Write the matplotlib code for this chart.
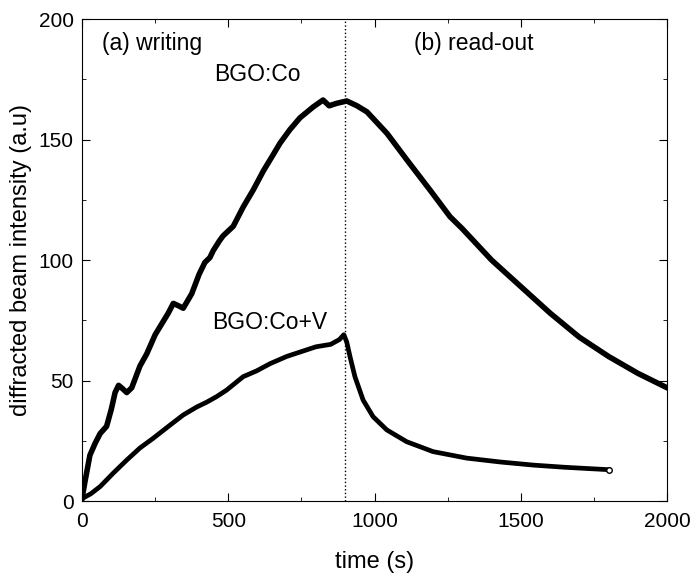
import matplotlib.pyplot as plt
from matplotlib.ticker import MultipleLocator

plt.rcParams['font.family'] = ['Liberation Sans', 'DejaVu Sans']

# BGO:Co  (writing + read-out)
t_co = [0, 10, 27, 45, 62, 84, 100, 113, 125, 135, 153, 170, 198, 221, 250, 275, 295,
        312, 330, 346, 375, 400, 420, 437, 449, 470, 482, 517, 551, 585, 620, 650, 677,
        710, 745, 790, 824, 845, 870, 905, 940, 974, 1043, 1111, 1190, 1258, 1300, 1400,
        1500, 1600, 1700, 1800, 1900, 2000]
y_co = [1, 8, 19, 24, 28, 31, 38, 45, 48, 47, 45, 47, 56, 61, 69, 74, 78,
        82, 81, 80, 86, 94, 99, 101, 104, 108, 110, 114, 122, 129, 137, 143, 148.5,
        154, 159, 163.5, 166.4, 164, 165, 166, 164, 161.5, 152.5, 141.5, 129, 118, 113, 100,
        89, 78, 68, 60, 53, 47]

# BGO:Co+V
t_cov = [0, 30, 62, 107, 153, 198, 243, 301, 346, 392, 426, 460, 494, 551, 597, 643,
         700, 750, 800, 850, 880, 895, 905, 916, 933, 961, 995, 1042, 1110, 1200, 1315,
         1429, 1543, 1650, 1800]
y_cov = [1, 3, 6, 11.6, 17, 22, 26, 31.5, 35.7, 39, 41, 43.3, 46, 51.6, 54, 57,
         60, 62, 64, 65, 67, 69, 66, 60, 51.6, 41.9, 35, 29.5, 24.6, 20.5, 17.8,
         16.2, 14.9, 14, 13]

fig = plt.figure(figsize=(6.91, 5.77), dpi=100)
ax = fig.add_axes([0.1187, 0.1317, 0.8466, 0.8353])

ax.plot(t_co, y_co, color='black', lw=4.0, solid_joinstyle='round')
ax.plot(t_cov, y_cov, color='black', lw=3.4, marker='o', markevery=[-1],
        markersize=4, markerfacecolor='white', markeredgecolor='black')
ax.axvline(900, color='black', ls=':', lw=1)

ax.text(240, 190, '(a) writing', fontsize=16.5, ha='center', va='center')
ax.text(1340, 190, '(b) read-out', fontsize=16.5, ha='center', va='center')
ax.text(600, 177, 'BGO:Co', fontsize=16.5, ha='center', va='center')
ax.text(640, 74, 'BGO:Co+V', fontsize=16.5, ha='center', va='center')

ax.set_xlim(0, 2000)
ax.set_ylim(0, 200)
ax.xaxis.set_major_locator(MultipleLocator(500))
ax.xaxis.set_minor_locator(MultipleLocator(250))
ax.yaxis.set_major_locator(MultipleLocator(50))
ax.yaxis.set_minor_locator(MultipleLocator(25))
ax.tick_params(which='both', direction='in', top=True, right=True, labelsize=15)
ax.tick_params(which='major', length=6)
ax.tick_params(which='minor', length=3)
ax.tick_params(axis='x', pad=8)
ax.tick_params(axis='y', pad=6)
ax.set_xlabel('time (s)', fontsize=17, labelpad=14)
ax.set_ylabel('diffracted beam intensity (a.u)', fontsize=17, labelpad=5)

fig.savefig('out.png', dpi=100)
